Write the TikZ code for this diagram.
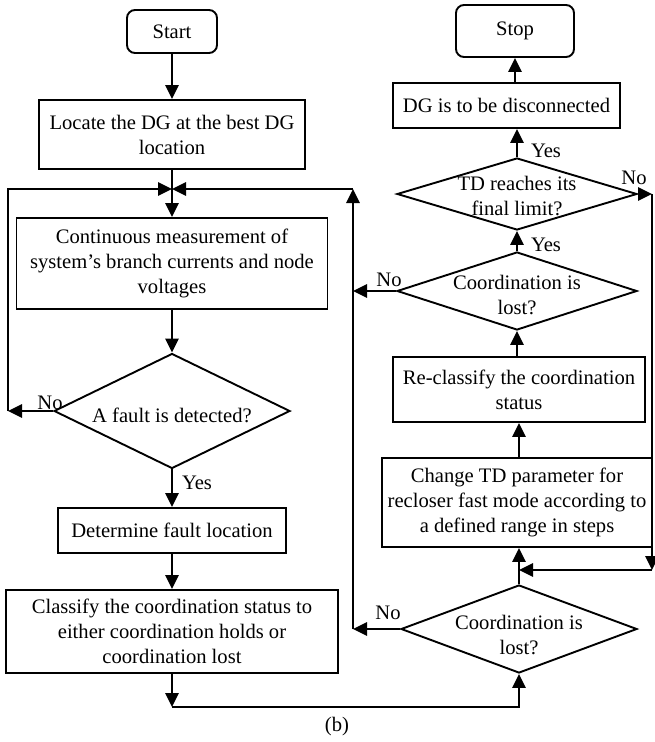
\documentclass[tikz,border=0pt]{standalone}
\usepackage{fontspec}
\setmainfont{Liberation Serif}
\usetikzlibrary{arrows.meta,shapes.geometric}
\begin{document}
\begin{tikzpicture}[x=1pt,y=-1pt,
  every node/.style={font=\fontsize{20.6pt}{25pt}\selectfont},
  box/.style={draw,line width=1.9pt,align=center,inner sep=0pt},
  term/.style={box,rounded corners=8pt},
  dec/.style={draw,shape=diamond,line width=1.9pt,inner sep=0pt},
  dtext/.style={align=center,yshift=-4pt},
  arr/.style={line width=2.9pt,-{Triangle[length=14pt,width=13pt]}},
  lbl/.style={inner sep=0pt}]
\useasboundingbox (0,0) rectangle (655,742);
% left column
\node[term,minimum width=90pt,minimum height=43pt] (start) at (172,31.5) {Start};
\node[box,minimum width=266pt,minimum height=69pt] (locate) at (172,134.5) {Locate the DG at the best DG\\location};
\node[box,minimum width=311pt,minimum height=91pt] (cont) at (172,263.5) {Continuous measurement of\\system’s branch currents and node\\voltages};
\node[dec,minimum width=236pt,minimum height=115pt,label={[dtext]center:{A fault is detected?}}] (fault) at (172,411) {};
\node[box,minimum width=228pt,minimum height=45pt] (det) at (172,530.5) {Determine fault location};
\node[box,minimum width=332pt,minimum height=83pt] (class) at (172,631.5) {Classify the coordination status to\\either coordination holds or\\coordination lost};
% right column
\node[term,minimum width=118pt,minimum height=52pt] (stop) at (515,31) {Stop};
\node[box,minimum width=227pt,minimum height=45pt] (dg) at (506.5,105.5) {DG is to be disconnected};
\node[dec,minimum width=240pt,minimum height=72pt,label={[dtext,yshift=2pt]center:{TD reaches its\\final limit?}}] (td) at (517,194) {};
\node[dec,minimum width=240pt,minimum height=78pt,label={[dtext]center:{Coordination is\\lost?}}] (lost1) at (517,291) {};
\node[box,minimum width=252pt,minimum height=65pt] (recl) at (519,389.5) {Re-classify the coordination\\status};
\node[box,minimum width=270pt,minimum height=89pt] (change) at (517,502.5) {Change TD parameter for\\recloser fast mode according to\\a defined range in steps};
\node[dec,minimum width=236pt,minimum height=88pt,label={[dtext,yshift=-2pt]center:{Coordination is\\lost?}}] (lost2) at (519,629) {};
% helper points
\coordinate (J) at (172,189);
\coordinate (L) at (8,411);
\coordinate (R) at (353,189);
\coordinate (B) at (172,707);
\coordinate (T1) at (652,194);
\coordinate (T2) at (652,570);
% connectors, left
\draw[arr] (start.south) -- (locate.north);
\draw[arr] (locate.south) -- (cont.north);
\draw[arr] (cont.south) -- (fault.north);
\draw[arr] (fault.south) -- (det.north);
\draw[arr] (det.south) -- (class.north);
\draw[arr] (fault.west) -- (L);
\draw[arr] (L) |- (J);
\draw[arr] (class.south) -- (B);
\draw[arr] (B) -| (lost2.south);
% connectors, right
\draw[arr] (lost2.north) -- (change.south -| lost2.north);
\draw[arr] (change.north -| lost2.north) -- (recl.south -| lost2.north);
\draw[arr] (recl.north -| lost1.south) -- (lost1.south);
\draw[arr] (lost1.north) -- (td.south);
\draw[arr] (td.north) -- (td.north |- dg.south);
\draw[arr] (dg.north -| stop.south) -- (stop.south);
\draw[arr] (td.east) -- (T1);
\draw[arr] (T1) -- (T2);
\draw[arr] (T2) -- (T2 -| lost2.north);
\draw[arr] (lost2.west) -- (lost2.west -| R);
\draw[arr] (lost2.west -| R) -- (R);
\draw[arr] (R) -- (J);
\draw[arr] (lost1.west) -- (lost1.west -| R);
% labels
\node[lbl] (nofault) at (50,403) {No};
\node[lbl] (yesfault) at (197,483) {Yes};
\node[lbl] (yestd) at (546,151) {Yes};
\node[lbl] (yeslost1) at (546,245) {Yes};
\node[lbl] (notd) at (634,178) {No};
\node[lbl] (nolost1) at (389,280) {No};
\node[lbl] (nolost2) at (388,613) {No};
\node[lbl] (cap) at (337,727) {(b)};
\end{tikzpicture}
\end{document}
